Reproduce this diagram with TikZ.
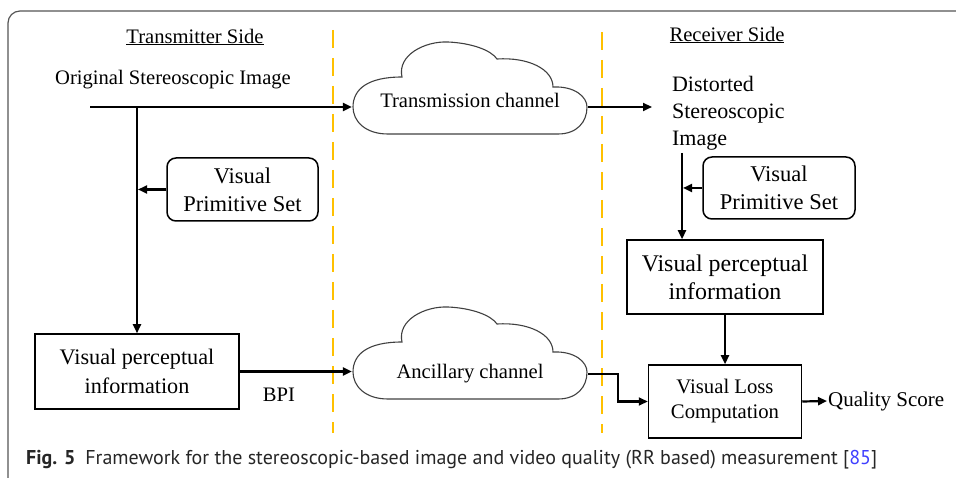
\documentclass[tikz,border=0pt]{standalone}
\usepackage{fontspec}
\setmainfont{Liberation Serif}
\newfontfamily\capfont{PT Sans}
\usetikzlibrary{arrows.meta, positioning}

\definecolor{dashgold}{HTML}{FFC000}
\definecolor{framegray}{HTML}{555555}
\definecolor{refblue}{HTML}{3F3FFF}

% cloud outline, #1 = its left tip
\newcommand{\cloudat}[1]{%
  \draw[cloudline, shift={(#1)}] (0,0)
    .. controls (0,-18) and (15,-30) .. (49,-30)
    .. controls (44,-52) and (72,-66) .. (95,-65)
    .. controls (118,-64) and (138,-57) .. (144,-48)
    .. controls (175,-50) and (200,-38) .. (200,-20)
    .. controls (222,-21) and (234,-10) .. (234,0)
    .. controls (234,15) and (224,27) .. (205,27)
    -- (35,27)
    .. controls (12,27) and (0,14) .. (0,0) -- cycle;}

\begin{document}
\begin{tikzpicture}[
            x=1pt, y=-1pt,
            >={Triangle[length=9pt,width=8pt]},
            line width=2.2pt,
            font=\fontsize{20.6}{27}\selectfont
        ]

        \tikzstyle{vbox}=[
            draw,
            line width=1.5pt,
            align=center,
            inner sep=0pt
        ]
        \tikzstyle{rbox}=[vbox, rounded corners=9pt]
        \tikzstyle{cloudtext}=[inner sep=0pt, minimum width=234pt]
        \tikzstyle{cloudline}=[draw=black!75, line width=1.1pt]
        \tikzstyle{divider}=[draw=dashgold, line width=2.6pt, dash pattern=on 18pt off 10pt]

        \useasboundingbox (0,0) rectangle (956,478);
        \clip (0,0) rectangle (956,478);

        % frame
        \draw[framegray, line width=1.2pt, rounded corners=12pt] (8,11) rectangle (990,492);

        % the two sides
        \draw[divider] (333,30) -- (333,433);
        \draw[divider] (602,32) -- (602,433);

        \node (txside) at (195,37) {\underline{Transmitter Side}};
        \node (rxside) at (727,35) {\underline{Receiver Side}};

        % transmitter
        \node (orig) at (173,80) {Original Stereoscopic Image};
        \coordinate (src) at (90,107);
        \node[rbox, minimum width=151pt, minimum height=63pt,
              font=\fontsize{22.5}{28}\selectfont] (lvps) at (242.5,189.5) {Visual\\Primitive Set};
        \node[vbox, minimum width=204pt, minimum height=75pt,
              font=\fontsize{22.2}{29}\selectfont] (lvpi) at (137,371.5) {Visual perceptual\\information};
        \node (bpi) at (279,395) {BPI};

        % channels
        \node[cloudtext] (trans) at (470,100) {Transmission channel};
        \node[cloudtext] (anc) at (470,374) {Ancillary channel};
        \cloudat{353,107}
        \cloudat{353,372}

        % receiver
        \node[align=left, inner sep=0pt, anchor=north west,
              font=\fontsize{22}{27}\selectfont] (dist) at (671,75) {Distorted\\Stereoscopic\\Image};
        \coordinate (distin) at (652,107);
        \coordinate (rtap) at (682,153);
        \node[rbox, minimum width=152pt, minimum height=62pt,
              font=\fontsize{22.5}{28}\selectfont] (rvps) at (779,188) {Visual\\Primitive Set};
        \node[vbox, minimum width=196pt, minimum height=74pt,
              font=\fontsize{23.9}{28}\selectfont] (rvpi) at (725,277) {Visual perceptual\\information};
        \node[vbox, minimum width=153pt, minimum height=73pt,
              font=\fontsize{20.7}{25}\selectfont] (vlc) at (725,401.5) {Visual Loss\\Computation};
        \node[anchor=west, inner sep=0pt, font=\fontsize{21}{25}\selectfont] (qual) at (827,401) {Quality Score};

        \draw[->] (src) -- (src -| trans.west);
        \draw[->] (src -| trans.east) -- (distin);
        \draw[->] (lvpi.north |- src) -- (lvpi.north);
        \draw[->, shorten >=1pt] (lvps.west) -- (lvps.west -| lvpi.north);
        \draw[->] (lvpi.east) -- (lvpi.east -| anc.west);
        \draw[->] (anc.east) -- ++(30,0) |- (vlc.west);
        \draw[->] (rtap) -- (rtap |- rvpi.north);
        \draw[->, shorten >=1pt] (rvps.west) -- (rvps.west -| rtap);
        \path[->] (rvpi) edge (vlc);
        \draw[->] (vlc.east) -- (qual.west);

        % caption
        \node[anchor=west, inner sep=0pt, text=black!85,
              font=\capfont\fontsize{20}{24}\selectfont] (caption) at (25,460)
            {\textbf{Fig. 5}\hspace{10pt}Framework for the stereoscopic-based image and video quality (RR based) measurement [\textcolor{refblue}{85}]};
    \end{tikzpicture}
\end{document}
